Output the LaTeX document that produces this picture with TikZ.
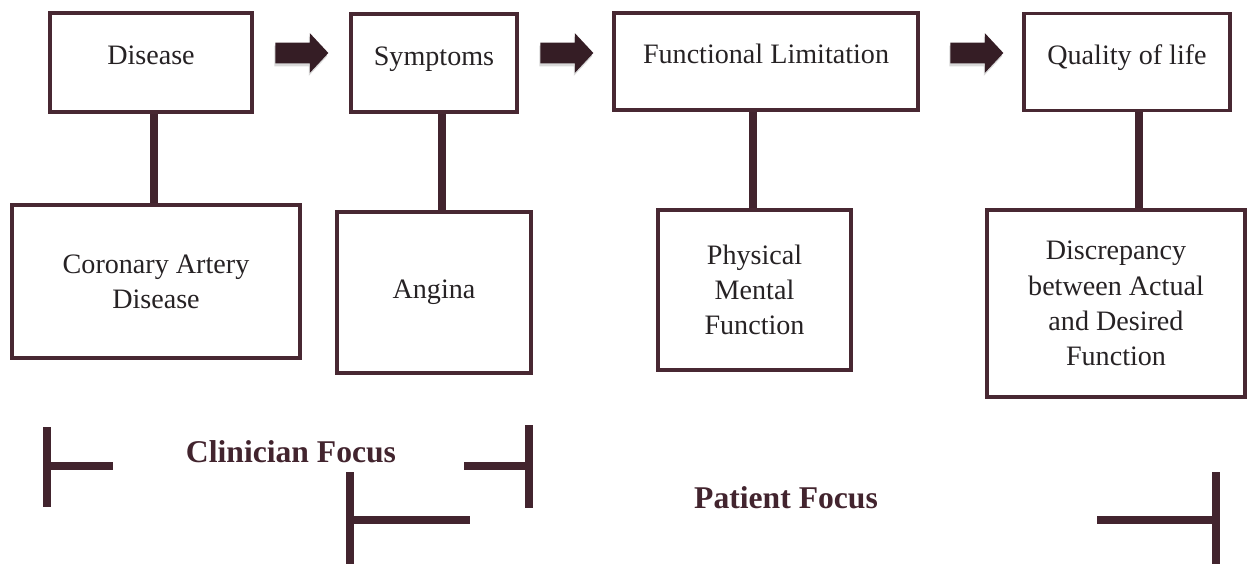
\documentclass[tikz,border=0pt]{standalone}
\usepackage{fontspec}
\setmainfont{Liberation Serif}
\usetikzlibrary{shapes.arrows,shadows}
\definecolor{frame}{RGB}{72,40,50}
\definecolor{ink}{RGB}{38,34,36}
\definecolor{bar}{RGB}{66,36,46}
\tikzstyle{stage} = [draw=frame, line width=2.2pt, fill=white, text=ink, align=center, font={\fontsize{16}{20}\selectfont}, text height=0.5cm, text depth=0.42cm]
\tikzstyle{detail} = [draw=frame, line width=2.2pt, fill=white, text=ink, align=center, font={\fontsize{16}{20}\selectfont}]
\tikzstyle{step arrow} = [single arrow, anchor=west, fill=bar!80!black, draw=none, minimum height=1.06cm, text height=0.2cm, text depth=0.2cm, single arrow head extend=0.19cm, single arrow tip angle=94, inner sep=0pt, drop shadow={opacity=0.3, shadow xshift=-0.02cm, shadow yshift=-0.06cm}]
\tikzstyle{link} = [draw=bar, line width=0.17cm]
\tikzstyle{bracket} = [draw=bar, line width=0.16cm]
\tikzstyle{focus} = [text=bar, font={\fontsize{18}{22}\selectfont\bfseries}]

\begin{document}
\begin{tikzpicture}
    \useasboundingbox (0,0) rectangle (24.98,-11.28);
    \node[stage, minimum width=4.04cm, minimum height=1.98cm](dis) at (3.02,-1.25){Disease};
    \node[stage, minimum width=3.32cm, minimum height=1.96cm](sym) at (8.68,-1.26){Symptoms};
    \node[stage, minimum width=6.08cm, minimum height=1.94cm](fun) at (15.32,-1.23){Functional Limitation};
    \node[stage, minimum width=4.12cm, minimum height=1.94cm](qol) at (22.54,-1.24){Quality of life};
    \node[step arrow](a1) at (5.5,-1.06){};
    \node[step arrow](a2) at (10.8,-1.06){};
    \node[step arrow](a3) at (19.0,-1.06){};
    \node[detail, minimum width=5.76cm, minimum height=3.06cm](cad) at (3.12,-5.63){Coronary Artery\\Disease};
    \node[detail, minimum width=3.88cm, minimum height=3.22cm](ang) at (8.68,-5.85){Angina};
    \node[detail, minimum width=3.86cm, minimum height=3.2cm](phy) at (15.09,-5.8){Physical\\Mental\\Function};
    \node[detail, minimum width=5.16cm, minimum height=3.74cm](dsc) at (22.32,-6.07){Discrepancy\\between Actual\\and Desired\\Function};
    \draw[link]([xshift=0.06cm]dis.south) -- ([xshift=0.06cm]dis.south |- cad.north);
    \draw[link]([xshift=0.16cm]sym.south) -- ([xshift=0.16cm]sym.south |- ang.north);
    \draw[link]([xshift=-0.26cm]fun.south) -- ([xshift=-0.26cm]fun.south |- phy.north);
    \draw[link]([xshift=0.24cm]qol.south) -- ([xshift=0.24cm]qol.south |- dsc.north);
    \node[focus](clin) at (5.82,-9.04){Clinician Focus};
    \node[focus](pat) at (15.72,-9.96){Patient Focus};
    \draw[bracket](0.94,-8.54) -- (0.94,-10.14);
    \draw[bracket](0.94,-9.32) -- (2.26,-9.32);
    \draw[bracket](10.58,-8.5) -- (10.58,-10.16);
    \draw[bracket](9.28,-9.32) -- (10.58,-9.32);
    \draw[bracket](7.0,-9.44) -- (7.0,-11.28);
    \draw[bracket](7.0,-10.4) -- (9.4,-10.4);
    \draw[bracket](24.32,-9.44) -- (24.32,-11.28);
    \draw[bracket](21.94,-10.4) -- (24.32,-10.4);
  \end{tikzpicture}
\end{document}
